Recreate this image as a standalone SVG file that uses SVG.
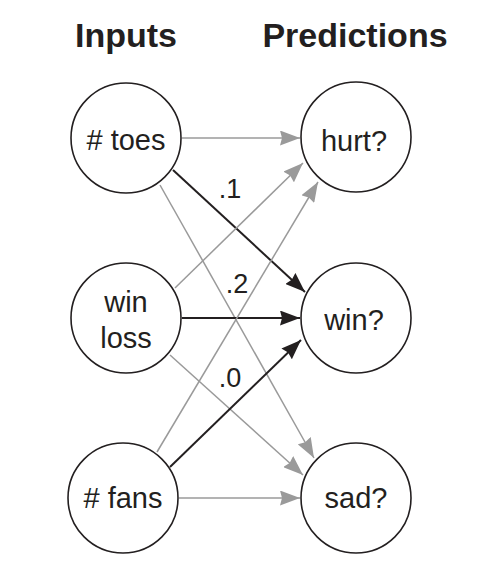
<svg xmlns="http://www.w3.org/2000/svg" width="496" height="564" viewBox="0 0 496 564">
<style>
  .node circle { fill: #ffffff; stroke: #231f20; stroke-width: 1.6; }
  .lbl { font-family: "Liberation Sans", Arial, sans-serif; font-size: 29px; fill: #231f20; text-anchor: middle; }
  .title { font-family: "Liberation Sans", Arial, sans-serif; font-size: 34px; font-weight: bold; fill: #231f20; text-anchor: middle; }
  .w { font-family: "Liberation Sans", Arial, sans-serif; font-size: 27px; fill: #231f20; text-anchor: middle; }
  .g { stroke: #9a9a9a; stroke-width: 1.5; fill: none; marker-end: url(#ag); }
  .b { stroke: #231f20; stroke-width: 2; fill: none; marker-end: url(#ab); }
</style>
<defs>
  <marker id="ag" markerUnits="userSpaceOnUse" markerWidth="20" markerHeight="15" refX="20" refY="7.5" orient="auto" viewBox="0 0 20 15">
    <path d="M0,0 L20,7.5 L0,15 L2,7.5 z" fill="#9a9a9a"/>
  </marker>
  <marker id="ab" markerUnits="userSpaceOnUse" markerWidth="20" markerHeight="15" refX="20" refY="7.5" orient="auto" viewBox="0 0 20 15">
    <path d="M0,0 L20,7.5 L0,15 L2,7.5 z" fill="#231f20"/>
  </marker>
</defs>
<rect width="496" height="564" fill="#ffffff"/>
<text class="title" x="126" y="47">Inputs</text>
<text class="title" x="355" y="47">Predictions</text>
<g id="connectors">
  <line class="g" x1="182" y1="138" x2="300" y2="138"/>
  <line class="b" x1="173" y1="170" x2="305" y2="292"/>
  <line class="g" x1="160" y1="185" x2="314" y2="458"/>
  <line class="g" x1="175" y1="288" x2="303" y2="163"/>
  <line class="b" x1="182" y1="318" x2="300" y2="318"/>
  <line class="g" x1="170" y1="355" x2="303" y2="475"/>
  <line class="g" x1="157" y1="452" x2="318" y2="182"/>
  <line class="b" x1="170" y1="467" x2="301" y2="340"/>
  <line class="g" x1="179" y1="498" x2="300" y2="498"/>
  <text class="w" x="230" y="198">.1</text>
  <text class="w" x="237" y="293">.2</text>
  <text class="w" x="230" y="387">.0</text>
</g>
<g id="toes" class="node"><circle cx="126" cy="138" r="55"/><text class="lbl" x="126" y="150">#&#160;toes</text></g>
<g id="winloss" class="node"><circle cx="126" cy="318" r="55"/><text class="lbl" x="126" y="312">win</text><text class="lbl" x="126" y="348">loss</text></g>
<g id="fans" class="node"><circle cx="123" cy="498" r="55"/><text class="lbl" x="123" y="508">#&#160;fans</text></g>
<g id="hurt" class="node"><circle cx="356" cy="137" r="55"/><text class="lbl" x="354" y="151">hurt?</text></g>
<g id="win" class="node"><circle cx="356" cy="318" r="55"/><text class="lbl" x="354" y="330">win?</text></g>
<g id="sad" class="node"><circle cx="356" cy="498" r="55"/><text class="lbl" x="356" y="508">sad?</text></g>
</svg>
